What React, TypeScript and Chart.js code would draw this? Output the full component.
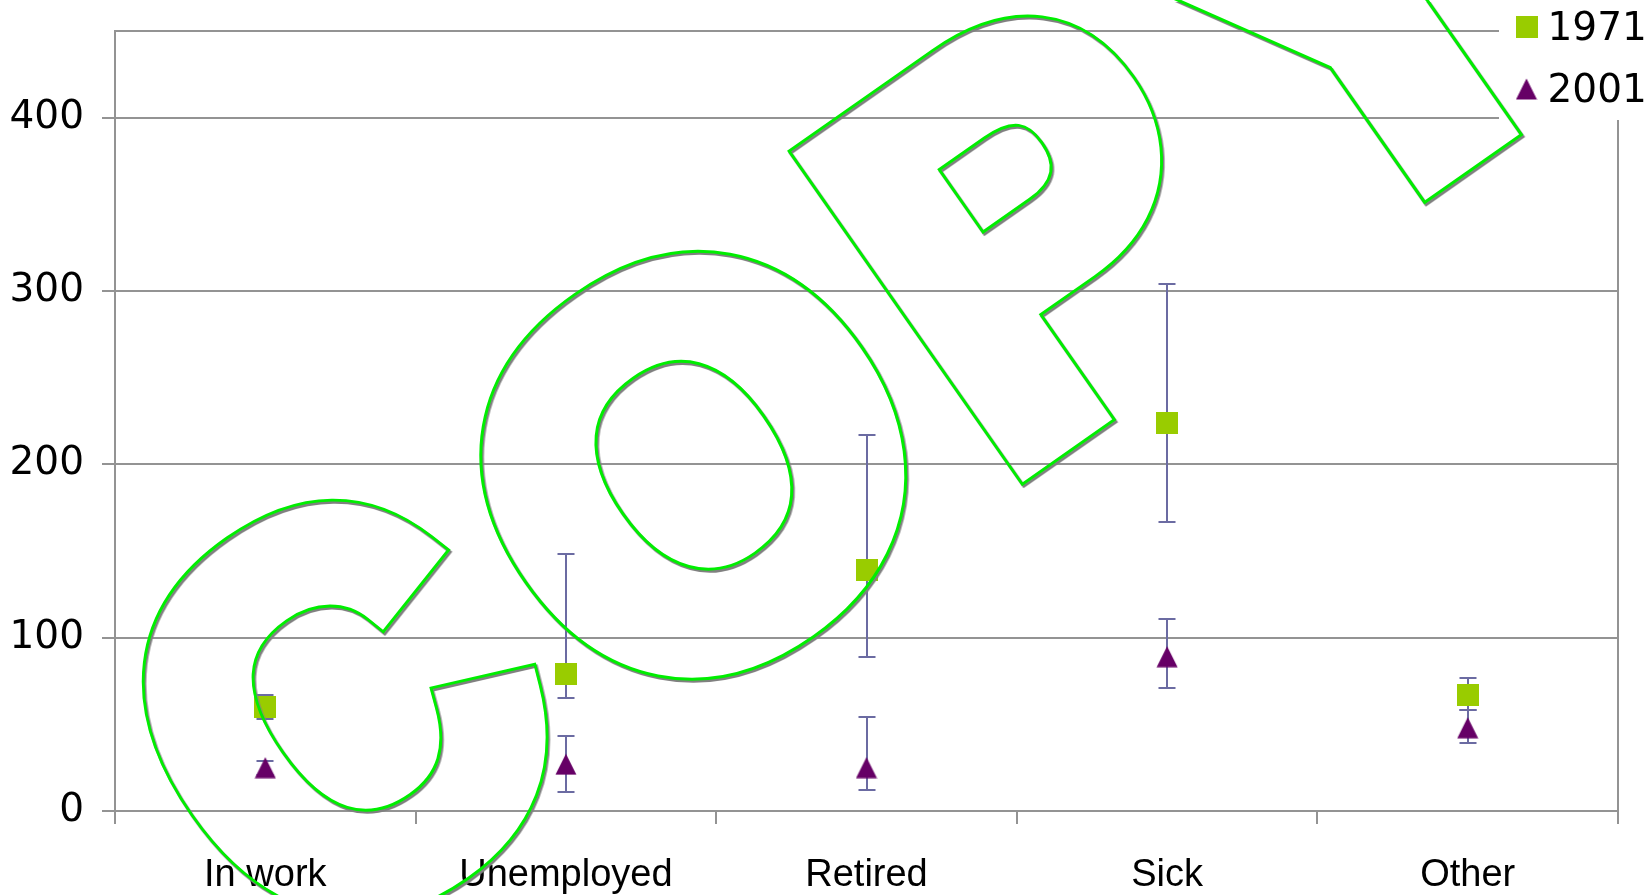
import { useEffect, useRef } from "react";
import { Chart, registerables } from "chart.js";

Chart.register(...registerables);

// ---- data ----
const categories = ["In work", "Unemployed", "Retired", "Sick", "Other"];
const seriesLabels = ["1971", "2001"];
const values1971 = [60, 79, 139, 224, 67];
const lower1971 = [53, 65, 89, 167, 58];
const upper1971 = [67, 148, 217, 304, 77];
const values2001 = [25, 27, 25, 89, 48];
const lower2001 = [21, 11, 12, 71, 39];
const upper2001 = [29, 43, 54, 111, 58];
const yTickValues = [0, 100, 200, 300, 400];
const watermarkText = ["C", "O", "P", "Y"];

// ---- styling ----
const GREEN = "#99cc00";
const PURPLE = "#660066";
const BAR = "#6b6ba2";
const GRID = "#939393";
const NUM_FONT = '"DejaVu Sans", sans-serif';
const CAT_FONT = '"Liberation Sans", Arial, sans-serif';

const W = 1647;
const H = 895;

function makeSquare(): HTMLCanvasElement {
  const c = document.createElement("canvas");
  c.width = 22;
  c.height = 22;
  const g = c.getContext("2d")!;
  g.fillStyle = GREEN;
  g.fillRect(0, 0, 22, 22);
  return c;
}

function makeTriangle(): HTMLCanvasElement {
  const c = document.createElement("canvas");
  c.width = 22;
  c.height = 22;
  const g = c.getContext("2d")!;
  g.fillStyle = PURPLE;
  g.beginPath();
  g.moveTo(11, 0.5);
  g.lineTo(21.5, 21.5);
  g.lineTo(0.5, 21.5);
  g.closePath();
  g.fill();
  return c;
}

// Outlined, slanted "COPY" stamp drawn across the plot.
const STAMP_ANGLE = (-35 * Math.PI) / 180;
const STAMP_SIZE = 530;
const STAMP_WEIGHT = 42;
const STAMP_BASELINE = 962;
const STAMP_CENTERS = [-130, 303, 723, 1111];
const STAMP_WIDTHS = [0.93, 1, 0.95, 1];

function drawStampShape(g: CanvasRenderingContext2D, lineWidth: number, color: string) {
  g.save();
  g.rotate(STAMP_ANGLE);
  g.font = `bold ${STAMP_SIZE}px "Liberation Sans", Arial, sans-serif`;
  g.lineJoin = "miter";
  g.miterLimit = 10;
  g.fillStyle = color;
  g.strokeStyle = color;
  g.lineWidth = lineWidth;
  watermarkText.forEach((ch, i) => {
    const m = g.measureText(ch);
    const x = -(m.actualBoundingBoxRight - m.actualBoundingBoxLeft) / 2;
    g.save();
    g.translate(STAMP_CENTERS[i], STAMP_BASELINE);
    g.scale(STAMP_WIDTHS[i], 1);
    g.fillText(ch, x, 0);
    g.strokeText(ch, x, 0);
    g.restore();
  });
  g.restore();
}

function makeStampRing(color: string, half: number): HTMLCanvasElement {
  const c = document.createElement("canvas");
  c.width = W;
  c.height = H;
  const g = c.getContext("2d")!;
  drawStampShape(g, STAMP_WEIGHT + half * 2, color);
  g.globalCompositeOperation = "destination-out";
  drawStampShape(g, STAMP_WEIGHT - half * 2, "#000");
  return c;
}

export default function App() {
  const canvasRef = useRef<HTMLCanvasElement | null>(null);

  useEffect(() => {
    const canvas = canvasRef.current;
    if (!canvas) return;

    const square = makeSquare();
    const triangle = makeTriangle();
    let stampShadow: HTMLCanvasElement | null = null;
    let stampLine: HTMLCanvasElement | null = null;

    const framePlugin = {
      id: "frame",
      beforeDatasetsDraw(chart: any) {
        const { ctx, chartArea } = chart;
        ctx.save();
        ctx.strokeStyle = GRID;
        ctx.lineWidth = 2;
        ctx.beginPath();
        ctx.moveTo(chartArea.left, chartArea.top);
        ctx.lineTo(chartArea.right, chartArea.top);
        ctx.moveTo(chartArea.right, chartArea.top);
        ctx.lineTo(chartArea.right, chartArea.bottom);
        ctx.stroke();
        ctx.restore();
      },
    };

    const errorBarPlugin = {
      id: "errorBars",
      beforeDatasetsDraw(chart: any) {
        const { ctx, scales } = chart;
        const x = scales.x;
        const y = scales.y;
        const ranges = [
          [lower1971, upper1971],
          [lower2001, upper2001],
        ];
        ctx.save();
        ctx.strokeStyle = BAR;
        ctx.lineWidth = 2;
        ranges.forEach(([lo, hi]) => {
          categories.forEach((_, i) => {
            const px = Math.round(x.getPixelForValue(i));
            const yl = Math.round(y.getPixelForValue(lo[i]));
            const yh = Math.round(y.getPixelForValue(hi[i]));
            ctx.beginPath();
            ctx.moveTo(px, yl);
            ctx.lineTo(px, yh);
            ctx.moveTo(px - 8.5, yl);
            ctx.lineTo(px + 8.5, yl);
            ctx.moveTo(px - 8.5, yh);
            ctx.lineTo(px + 8.5, yh);
            ctx.stroke();
          });
        });
        ctx.restore();
      },
    };

    const legendPlugin = {
      id: "cornerLegend",
      afterDraw(chart: any) {
        const { ctx } = chart;
        ctx.save();
        ctx.fillStyle = "#ffffff";
        ctx.fillRect(1499, 0, W - 1499, 120);
        ctx.drawImage(square, 1526.5 - 11, 27 - 11);
        ctx.drawImage(triangle, 1526.5 - 11, 89 - 11);
        ctx.fillStyle = "#000000";
        ctx.font = `39px ${NUM_FONT}`;
        ctx.textAlign = "left";
        ctx.textBaseline = "alphabetic";
        ctx.fillText(seriesLabels[0], 1547.5, 39.5);
        ctx.fillText(seriesLabels[1], 1547.5, 101.5);
        ctx.restore();
      },
    };

    const stampPlugin = {
      id: "stamp",
      afterDraw(chart: any) {
        const { ctx } = chart;
        if (!stampShadow) stampShadow = makeStampRing("#808080", 1.6);
        if (!stampLine) stampLine = makeStampRing("#00ee00", 1.5);
        ctx.save();
        ctx.drawImage(stampShadow, 1.5, 2);
        ctx.drawImage(stampLine, 0, 0);
        ctx.restore();
      },
    };

    const chart = new Chart(canvas, {
      type: "line",
      data: {
        labels: categories,
        datasets: [
          {
            label: seriesLabels[0],
            data: values1971,
            showLine: false,
            pointStyle: square as any,
            pointRadius: 11,
            pointHoverRadius: 11,
            backgroundColor: GREEN,
            borderColor: GREEN,
            clip: false as any,
          },
          {
            label: seriesLabels[1],
            data: values2001,
            showLine: false,
            pointStyle: triangle as any,
            pointRadius: 11,
            pointHoverRadius: 11,
            backgroundColor: PURPLE,
            borderColor: PURPLE,
            clip: false as any,
          },
        ],
      },
      options: {
        animation: false,
        responsive: true,
        maintainAspectRatio: false,
        events: [],
        layout: { padding: { top: 31, right: 29, left: 0, bottom: 0 } },
        plugins: {
          legend: { display: false },
          tooltip: { enabled: false },
        },
        scales: {
          x: {
            type: "category",
            offset: true,
            grid: {
              offset: true,
              drawOnChartArea: false,
              color: GRID,
              lineWidth: 2,
              tickLength: 13,
            },
            border: { color: GRID, width: 2 },
            ticks: {
              color: "#000000",
              font: { family: CAT_FONT, size: 38 },
              padding: 29,
              maxRotation: 0,
              autoSkip: false,
            },
            afterFit(scale: any) {
              scale.height = 84;
              scale.paddingLeft = 0;
              scale.paddingRight = 0;
            },
          },
          y: {
            min: 0,
            max: 450,
            grid: { color: GRID, lineWidth: 2, tickLength: 13 },
            border: { color: GRID, width: 2 },
            ticks: {
              stepSize: 100,
              includeBounds: false,
              color: "#000000",
              font: { family: NUM_FONT, size: 39 },
              padding: 18,
              callback: (v: any) => (yTickValues.includes(Number(v)) ? String(v) : ""),
            },
            afterFit(scale: any) {
              scale.width = 115;
              scale.paddingTop = 0;
              scale.paddingBottom = 0;
            },
          },
        },
      },
      plugins: [framePlugin, errorBarPlugin, legendPlugin, stampPlugin],
    });

    return () => chart.destroy();
  }, []);

  return (
    <div
      style={{
        position: "fixed",
        left: 0,
        top: 0,
        width: W,
        height: H,
        background: "#ffffff",
      }}
    >
      <canvas ref={canvasRef} />
    </div>
  );
}
